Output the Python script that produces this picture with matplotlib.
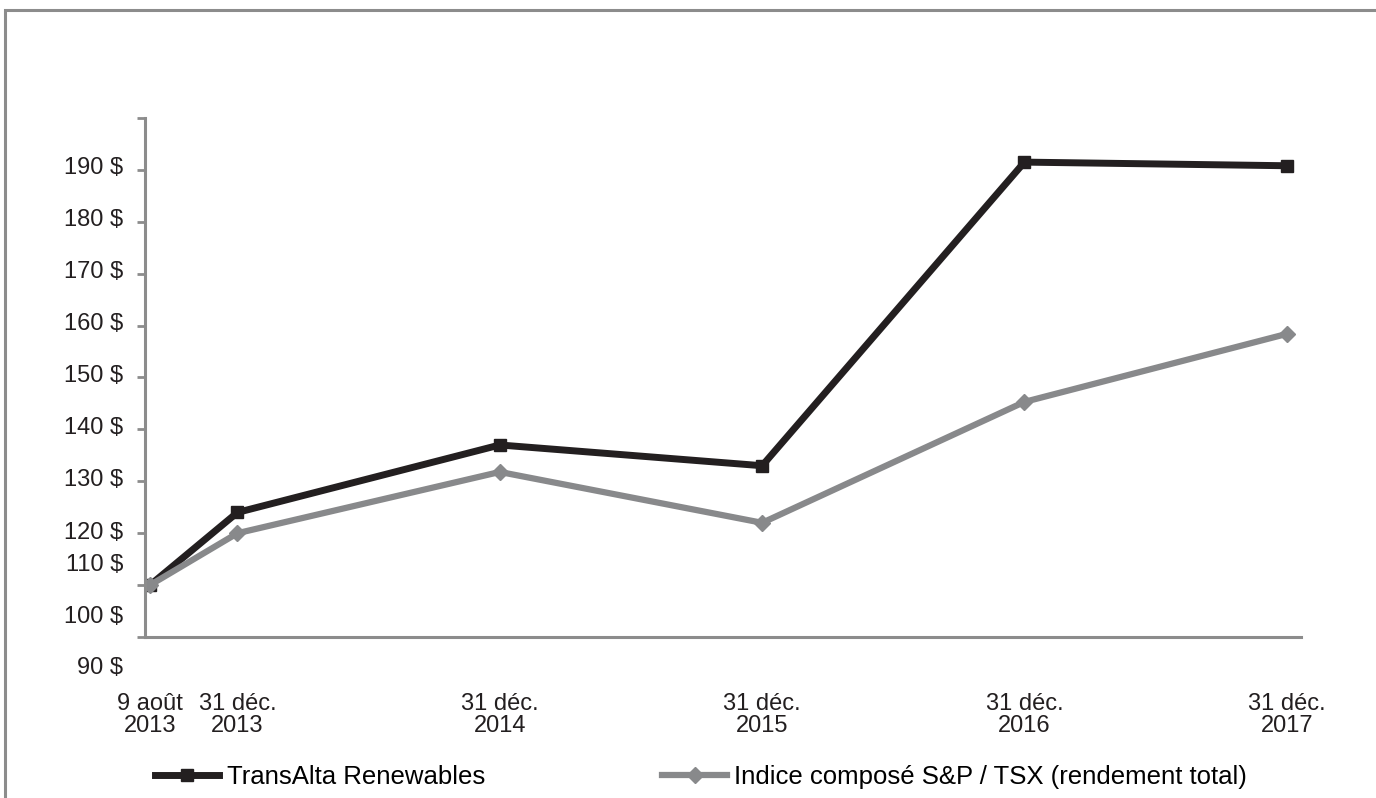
import matplotlib.pyplot as plt
from matplotlib.patches import Rectangle

# Data (cumulative value of $100 invested)
dates = ['9 août\n2013', '31 déc.\n2013', '31 déc.\n2014',
         '31 déc.\n2015', '31 déc.\n2016', '31 déc.\n2017']
months = [0, 4, 16, 28, 40, 52]   # months since Aug 2013
transalta = [100.0, 114.0, 127.0, 123.0, 181.5, 180.8]
tsx = [100.0, 110.0, 121.8, 112.0, 135.3, 148.4]

# y labels as printed (they sit offset from the tick marks in the source)
ylabels = ['190 $', '180 $', '170 $', '160 $', '150 $', '140 $',
           '130 $', '120 $', '110 $', '100 $', '90 $']
ylabel_pos = [180.3, 170.3, 160.3, 150.3, 140.3, 130.3,
              120.2, 110.1, 103.9, 93.8, 84.0]

BLACK = '#231f20'
GREY = '#88898b'
AXIS = '#8c8c8c'

plt.rcParams['font.family'] = ['Liberation Sans', 'DejaVu Sans']
plt.rcParams['font.size'] = 17

fig = plt.figure(figsize=(13.76, 7.98), dpi=100)
ax = fig.add_axes([145 / 1376, 161 / 798, 1156 / 1376, 519 / 798])

ax.plot(months, transalta, color=BLACK, lw=5, marker='s', ms=8,
        solid_joinstyle='miter', label='TransAlta Renewables')
ax.plot(months, tsx, color=GREY, lw=4.5, marker='D', ms=8.5,
        solid_joinstyle='miter', label='Indice composé S&P / TSX (rendement total)')

ax.set_xlim(-0.23, 52.65)
ax.set_ylim(90, 190)

for side in ['top', 'right']:
    ax.spines[side].set_visible(False)
for side in ['left', 'bottom']:
    ax.spines[side].set_color(AXIS)
    ax.spines[side].set_linewidth(2.2)

ax.set_yticks(range(90, 191, 10))
ax.set_yticklabels([])
ax.tick_params(axis='y', length=6, width=2, color=AXIS, direction='out')

ax.set_xticks(months)
ax.set_xticklabels(dates, color=BLACK, linespacing=1.05)
ax.tick_params(axis='x', length=0, pad=40)

for lab, pos in zip(ylabels, ylabel_pos):
    ax.text(-22 / 1156, pos, lab, transform=ax.get_yaxis_transform(),
            ha='right', va='center', color=BLACK, clip_on=False)

fig.legend(loc='center left', bbox_to_anchor=(155 / 1376, 1 - 777 / 798),
           ncol=2, frameon=False, fontsize=18.5, handlelength=2.5,
           handletextpad=0.3, columnspacing=6.9, borderaxespad=0, borderpad=0)

# outer frame (cut at right and bottom in the source)
fig.patches.append(Rectangle((5 / 1376, -0.05), 1.2, 1 - 10 / 798 + 0.05,
                             transform=fig.transFigure, fill=False,
                             edgecolor=AXIS, lw=2.2))

fig.savefig('out.png', dpi=100)
